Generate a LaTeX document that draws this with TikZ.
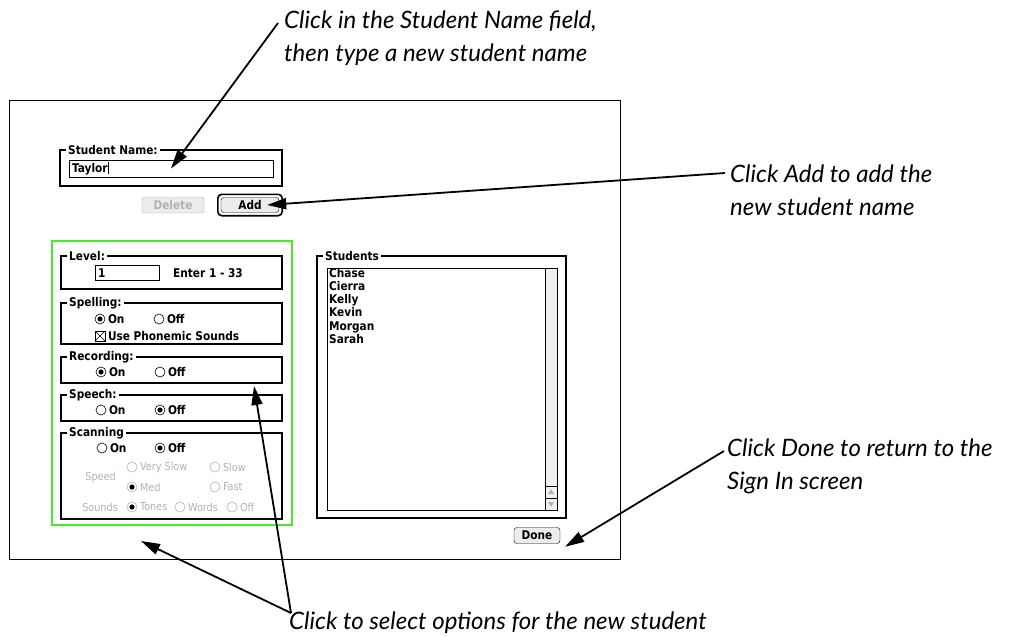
\documentclass[tikz,border=0pt]{standalone}
\usepackage{fontspec}
\setmainfont{Lato}
\newfontfamily\uifont[FakeStretch=0.88]{DejaVu Sans}
\usetikzlibrary{arrows.meta}
\definecolor{selgreen}{RGB}{70,235,40}

\begin{document}
\begin{tikzpicture}[x=1pt,y=-1pt,
  ui/.style={font=\uifont\bfseries\fontsize{12}{13.2}\selectfont,inner sep=0pt},
  uidim/.style={font=\uifont\fontsize{11}{13}\selectfont,text=gray!60,inner sep=0pt},
  box/.style={draw,line width=1.2pt},
  grplabel/.style={ui,fill=white,anchor=west,inner xsep=2pt,inner ysep=1pt},
  field/.style={draw,thin,ui,inner xsep=2pt,align=left},
  radio/.style={circle,draw,line width=0.6pt,inner sep=0pt,minimum size=10pt},
  radioon/.style={radio,path picture={\fill (path picture bounding box.center) circle (2.6pt);}},
  dim/.style={draw=gray!60,text=gray!60},
  rl/.style={label={[ui,label distance=2.5pt]right:#1}},
  rld/.style={label={[uidim,label distance=2.5pt]right:#1}},
  chk/.style={draw,line width=0.6pt,minimum size=10pt,inner sep=0pt,
    path picture={\draw (path picture bounding box.north west) -- (path picture bounding box.south east)
      (path picture bounding box.north east) -- (path picture bounding box.south west);}},
  btn/.style={draw,rounded corners=3pt,fill=gray!15,ui,minimum height=16pt},
  callout/.style={font=\itshape\fontsize{24}{32.5}\selectfont,align=left,anchor=north west,inner sep=0pt},
  pointer/.style={line width=1.8pt,-{Triangle[length=19pt,width=11pt]}}]

\useasboundingbox (0,0) rectangle (1010,637);

% dialog window
\draw[line width=0.8pt] (9,100) rectangle (620,559);
\draw[line width=1.6pt] (10,559.5) -- (620.5,559.5) -- (620.5,101);

% student name
\draw[box] (60,150) rectangle (282,186);
\node[grplabel] at (66,150) {Student Name:};
\node[field,minimum width=204pt,minimum height=17pt,text width=198pt] (namefield) at (171,168.5) {Taylor\rule[-2pt]{0.7pt}{12pt}};
\node[btn,dim,minimum width=62pt] (delbtn) at (173,205) {Delete};
\node[btn,minimum width=58pt,minimum height=15pt] (addbtn) at (250,205) {Add};
\draw[line width=1.6pt,rounded corners=4pt] ([shift={(-3,-3)}]addbtn.north west) rectangle ([shift={(3,3)}]addbtn.south east);

% options
\draw[selgreen,line width=1.4pt] (52,241) rectangle (292,525);
\draw[box] (61,256) rectangle (282,289) (61,303) rectangle (282,344)
      (61,357) rectangle (282,383) (61,395) rectangle (282,421)
      (61,433) rectangle (282,519);
\node[grplabel] at (67,256) {Level:};
\node[grplabel] at (67,303) {Spelling:};
\node[grplabel] at (67,357) {Recording:};
\node[grplabel] at (67,395) {Speech:};
\node[grplabel] at (67,433) {Scanning};
\node[field,minimum width=64pt,minimum height=15pt,text width=58pt] (levelfield) at (127,273) {1};
\node[ui,anchor=west] (levelhint) at (173,273) {Enter 1 - 33};
\node[radioon,rl=On] (spellon) at (100,319) {};
\node[radio,rl=Off] (spelloff) at (159,319) {};
\node[chk,rl=Use Phonemic Sounds] (phonemic) at (100,336) {};
\node[radioon,rl=On] (recon) at (101,372) {};
\node[radio,rl=Off] (recoff) at (160,372) {};
\node[radio,rl=On] (speechon) at (101,410) {};
\node[radioon,rl=Off] (speechoff) at (160,410) {};
\node[radio,rl=On] (scanon) at (102,448) {};
\node[radioon,rl=Off] (scanoff) at (160,448) {};
\node[uidim,anchor=east] (speedlbl) at (116,477) {Speed};
\node[radio,dim,rld=Very Slow] (vslow) at (132,467) {};
\node[radio,dim,rld=Slow] (slow) at (215,467) {};
\node[radioon,dim,rld=Med] (med) at (132,487) {};
\node[radio,dim,rld=Fast] (fast) at (215,487) {};
\node[uidim,anchor=east] (soundlbl) at (118,507) {Sounds};
\node[radioon,dim,rld=Tones] (tones) at (132,507) {};
\node[radio,dim,rld=Words] (words) at (180,507) {};
\node[radio,dim,rld=Off] (soundoff) at (232,507) {};

% student list
\draw[box] (317,256) rectangle (566,518);
\node[grplabel] at (323,256) {Students};
\draw[thin] (327,268) rectangle (557,510);
\draw[thin,fill=gray!12] (545,268) rectangle (557,510);
\draw[thin] (545,486) -- (557,486) (545,498) -- (557,498);
\fill[gray!60] (551,489) -- (548,494) -- (554,494) -- cycle
      (548,502) -- (554,502) -- (551,507) -- cycle;
\node[ui,anchor=north west,align=left] (names) at (329,268) {Chase\\Cierra\\Kelly\\Kevin\\Morgan\\Sarah};
\node[btn,minimum width=46pt] (donebtn) at (537,535.5) {Done};

% callouts
\node[callout] (nametip) at (284,11) {Click in the Student Name field,\\then type a new student name};
\node[callout] (addtip) at (730,165) {Click Add to add the\\new student name};
\node[callout] (donetip) at (727,439) {Click Done to return to the\\Sign In screen};
\node[callout] (opttip) at (289,612) {Click to select options for the new student};
\coordinate (blankpt) at (141,541);
\coordinate (recpt) at (254,386);

\draw[pointer] ([shift={(-6,12)}]nametip.north west) -- (namefield.center);
\draw[pointer] ([shift={(-5,8)}]addtip.north west) -- ([xshift=-12pt]addbtn.east);
\draw[pointer] ([shift={(-3,12)}]donetip.north west) -- ([shift={(5,3)}]donebtn.south east);
\draw[pointer] ([shift={(2,1)}]opttip.north west) -- (blankpt);
\draw[pointer] ([shift={(2,1)}]opttip.north west) -- (recpt);

\end{tikzpicture}
\end{document}
